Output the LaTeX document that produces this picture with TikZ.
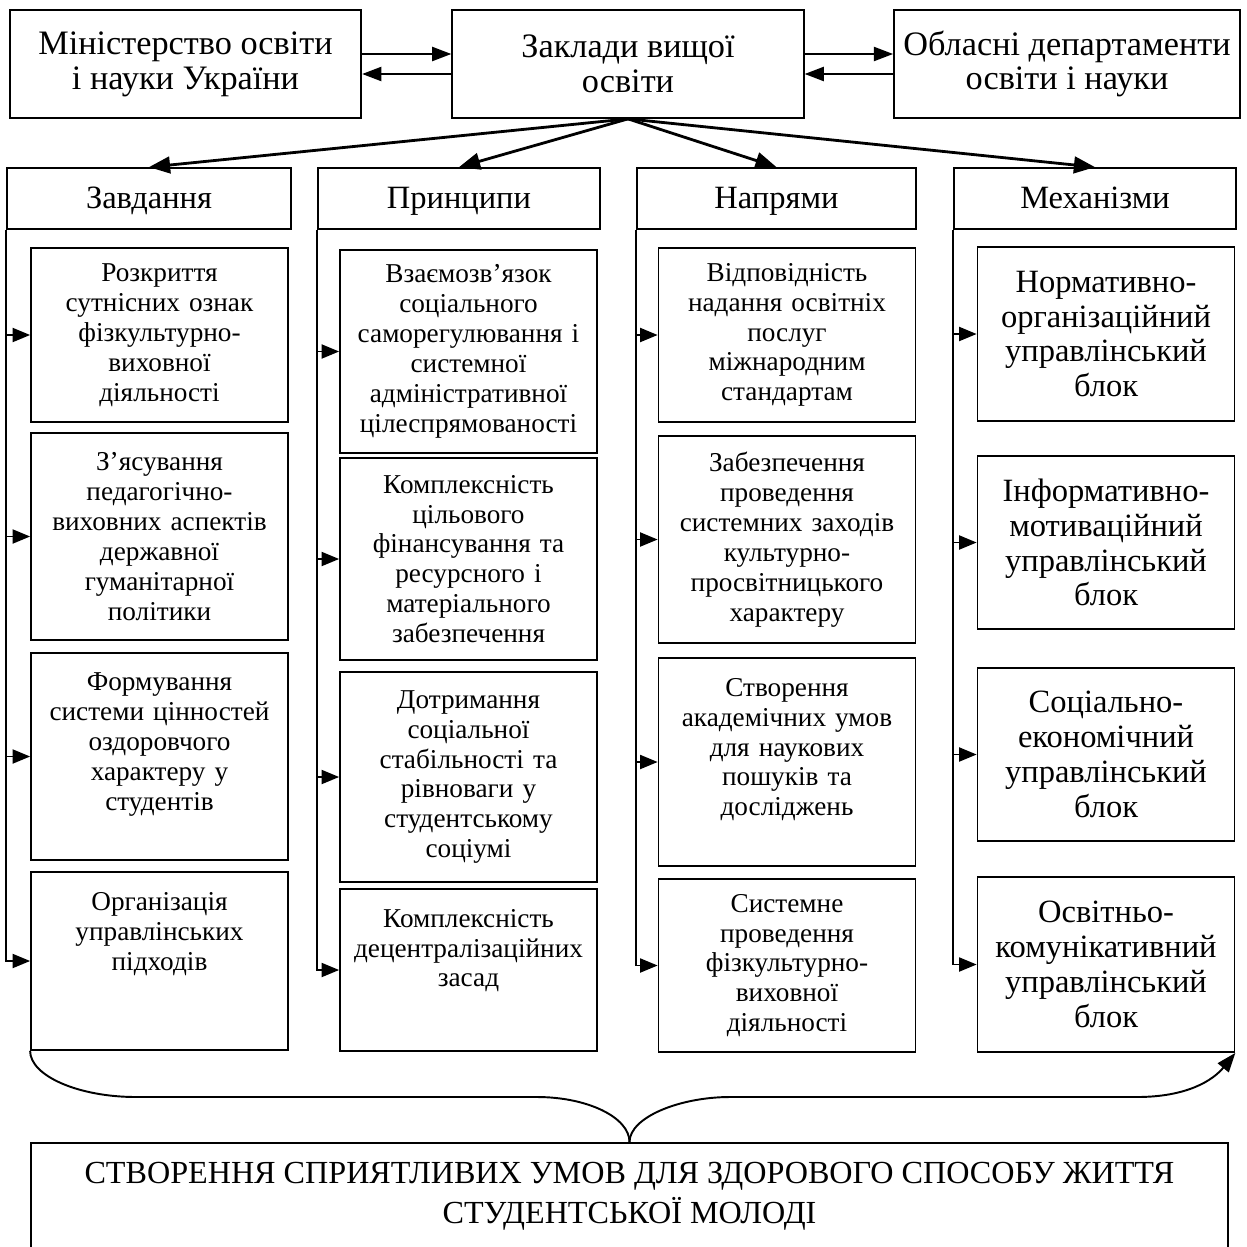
\documentclass[tikz,border=0pt]{standalone}
\usepackage{fontspec}
\setmainfont{Liberation Serif}
\usetikzlibrary{arrows.meta}
\newcommand{\txtbig}{\fontsize{19.5}{19.8}\selectfont}
\newcommand{\txthead}{\fontsize{18.5}{19.8}\selectfont}
\newcommand{\txtsmall}{\fontsize{15.5}{17}\selectfont}
\newcommand{\txtcap}{\fontsize{18.3}{22.7}\selectfont}
\tikzset{
	topbox/.style={draw, line width=1pt, minimum width=7.03cm, minimum height=2.16cm, align=center, font=\txtbig},
	headbox/.style={draw, line width=1pt, minimum height=1.22cm, text height=1.2em, text depth=0.1em, font=\txthead},
	cellbox/.style={draw, line width=1pt, text width=4.9cm, inner xsep=0.12cm, inner ysep=0pt, align=center, font=\txtsmall},
	mechbox/.style={cellbox, font=\txthead},
	fan/.style={line width=1.6pt, -{Triangle[length=12pt,width=9.5pt]}},
	link/.style={line width=1.3pt, -{Triangle[length=11pt,width=8pt]}},
	bus/.style={line width=1.1pt, -{Triangle[length=10pt,width=8pt]}},
	brace/.style={line width=1.1pt}
}

\begin{document}
\begin{tikzpicture}
	\useasboundingbox (0,0) rectangle (24.94,-24.94);
	\node[topbox] (min) at (3.71,-1.28) {Міністерство освіти\\і науки України};
	\node[topbox] (zvo) at (12.56,-1.28) {Заклади вищої\\освіти};
	\node[topbox, minimum width=6.92cm] (obl) at (21.34,-1.28) {Обласні департаменти\\освіти і науки};
	\draw[link] ([yshift=0.2cm]min.east) -- ([yshift=0.2cm]zvo.west);
	\draw[link] ([yshift=-0.2cm]zvo.west) -- ([yshift=-0.2cm]min.east);
	\draw[link] ([yshift=0.2cm]zvo.east) -- ([yshift=0.2cm]obl.west);
	\draw[link] ([yshift=-0.2cm]obl.west) -- ([yshift=-0.2cm]zvo.east);

	\node[headbox, minimum width=5.68cm] (h1) at (2.98,-3.97) {Завдання};
	\node[headbox, minimum width=5.64cm] (h2) at (9.18,-3.97) {Принципи};
	\node[headbox, minimum width=5.58cm] (h3) at (15.53,-3.97) {Напрями};
	\node[headbox, minimum width=5.64cm] (h4) at (21.9,-3.97) {Механізми};
	\foreach \h in {h1,h2,h3,h4} \draw[fan] (zvo.south) -- (\h.north);

	\node[cellbox, minimum height=3.48cm] (z1) at (3.19,-6.70) {Розкриття\\сутнісних ознак\\фізкультурно-\\виховної\\діяльності};
	\node[cellbox, minimum height=4.14cm] (z2) at (3.19,-10.73) {З’ясування\\педагогічно-\\виховних аспектів\\державної\\гуманітарної\\політики};
	\node[cellbox, minimum height=4.14cm] (z3) at (3.19,-15.13) {Формування\\системи цінностей\\оздоровчого\\характеру у\\студентів\\~};
	\node[cellbox, minimum height=3.56cm] (z4) at (3.19,-19.22) {Організація\\управлінських\\підходів\\~\\~};

	\node[cellbox, minimum height=4.06cm] (p1) at (9.37,-7.03) {Взаємозв’язок\\соціального\\саморегулювання і\\системної\\адміністративної\\цілеспрямованості};
	\node[cellbox, minimum height=4.04cm] (p2) at (9.37,-11.18) {Комплексність\\цільового\\фінансування та\\ресурсного і\\матеріального\\забезпечення};
	\node[cellbox, minimum height=4.2cm] (p3) at (9.37,-15.54) {Дотримання\\соціальної\\стабільності та\\рівноваги у\\студентському\\соціумі};
	\node[cellbox, minimum height=3.24cm] (p4) at (9.37,-19.40) {Комплексність\\децентралізаційних\\засад\\[8pt]~};

	\node[cellbox, minimum height=3.48cm] (n1) at (15.74,-6.70) {Відповідність\\надання освітніх\\послуг\\міжнародним\\стандартам};
	\node[cellbox, minimum height=4.14cm] (n2) at (15.74,-10.79) {Забезпечення\\проведення\\системних заходів\\культурно-\\просвітницького\\характеру};
	\node[cellbox, minimum height=4.16cm] (n3) at (15.74,-15.24) {Створення\\академічних умов\\для наукових\\пошуків та\\досліджень\\~};
	\node[cellbox, minimum height=3.46cm] (n4) at (15.74,-19.31) {Системне\\проведення\\фізкультурно-\\виховної\\діяльності};

	\node[mechbox, minimum height=3.48cm] (m1) at (22.12,-6.68) {Нормативно-\\організаційний\\управлінський\\блок};
	\node[mechbox, minimum height=3.46cm] (m2) at (22.12,-10.85) {Інформативно-\\мотиваційний\\управлінський\\блок};
	\node[mechbox, minimum height=3.46cm] (m3) at (22.12,-15.09) {Соціально-\\економічний\\управлінський\\блок};
	\node[mechbox, minimum height=3.5cm] (m4) at (22.12,-19.29) {Освітньо-\\комунікативний\\управлінський\\блок};

	\foreach \c/\h in {z/h1,p/h2,n/h3,m/h4} {
		\draw[bus] (\h.south west) |- (\c4.west);
		\foreach \i in {1,2,3} \draw[bus] (\h.south west |- \c\i.west) -- (\c\i.west);
	}

	\node[draw, line width=1pt, minimum width=23.94cm, minimum height=2.8cm, align=center, font=\txtcap] (goal) at (12.59,-24.26) {СТВОРЕННЯ СПРИЯТЛИВИХ УМОВ ДЛЯ ЗДОРОВОГО СПОСОБУ ЖИТТЯ\\СТУДЕНТСЬКОЇ МОЛОДІ\\~};

	\coordinate (bl) at (2.72,-21.94);
	\coordinate (bm1) at (10.74,-21.94);
	\coordinate (bm2) at (14.6,-21.94);
	\coordinate (br) at (22.74,-21.94);
	\draw[brace] (z4.south west) .. controls +(0,-0.5) and +(-1.15,0) .. (bl) -- (bm1) .. controls +(1.0,0) and +(0,0.5) .. (goal.north);
	\draw[brace, -{Triangle[length=11pt,width=8pt]}] (goal.north) .. controls +(0,0.5) and +(-1.0,0) .. (bm2) -- (br) .. controls +(1.0,0) and +(-0.45,-0.55) .. (m4.south east);
\end{tikzpicture}
\end{document}
